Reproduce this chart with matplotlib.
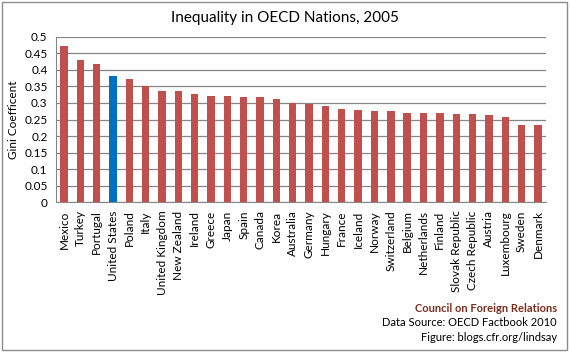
import matplotlib.pyplot as plt
import matplotlib.patches as mpatches
import numpy as np

countries = ["Mexico", "Turkey", "Portugal", "United States", "Poland", "Italy",
             "United Kingdom", "New Zealand", "Ireland", "Greece", "Japan", "Spain",
             "Canada", "Korea", "Australia", "Germany", "Hungary", "France",
             "Iceland", "Norway", "Switzerland", "Belgium", "Netherlands", "Finland",
             "Slovak Republic", "Czech Republic", "Austria", "Luxembourg", "Sweden",
             "Denmark"]
gini = [0.474, 0.430, 0.417, 0.381, 0.372, 0.352, 0.335, 0.335, 0.328, 0.321,
        0.321, 0.319, 0.317, 0.312, 0.301, 0.298, 0.291, 0.281, 0.280, 0.276,
        0.276, 0.271, 0.271, 0.269, 0.268, 0.268, 0.265, 0.258, 0.234, 0.232]
yticks = [0, 0.05, 0.1, 0.15, 0.2, 0.25, 0.3, 0.35, 0.4, 0.45, 0.5]

plt.rcParams['font.family'] = ['Lato', 'DejaVu Sans']

fig = plt.figure(figsize=(5.7, 3.52), dpi=100)
fig.patches.append(mpatches.Rectangle((0.004, 0.006), 0.99, 0.988, transform=fig.transFigure,
                                      fill=False, edgecolor="#8c8c8c", linewidth=1))
ax = fig.add_axes([0.098, 0.426, 0.86, 0.469])

x = np.arange(len(countries))
colors = ["#0070C0" if c == "United States" else "#C0504D" for c in countries]
ax.bar(x, gini, width=0.45, color=colors, zorder=3)

ax.set_xlim(-0.5, len(countries) - 0.5)
ax.set_ylim(0, 0.5)
ax.set_yticks(yticks)
ax.set_yticklabels(["%g" % t for t in yticks], fontsize=8.5)
ax.yaxis.grid(True, color="#868686", linewidth=0.9, zorder=0)
ax.tick_params(axis="y", length=0, pad=6)
ax.set_xticks(x)
ax.set_xticklabels(countries, rotation=90, fontsize=8.5)
ax.tick_params(axis="x", length=0, pad=6)
for s in ["top", "right"]:
    ax.spines[s].set_visible(False)
ax.spines["bottom"].set_color("#868686")
ax.spines["left"].set_color("#868686")

ax.set_ylabel("Gini Coefficent", fontsize=8.5, labelpad=4)
fig.text(0.5, 0.948, "Inequality in OECD Nations, 2005", ha="center", va="center", fontsize=11)

fig.text(0.977, 0.125, "Council on Foreign Relations", ha="right", va="center",
         fontsize=8, color="#7B2E1E", fontweight="bold")
fig.text(0.977, 0.083, "Data Source: OECD Factbook 2010", ha="right", va="center", fontsize=8)
fig.text(0.977, 0.042, "Figure: blogs.cfr.org/lindsay", ha="right", va="center", fontsize=8)

fig.savefig("out.png", dpi=100)
